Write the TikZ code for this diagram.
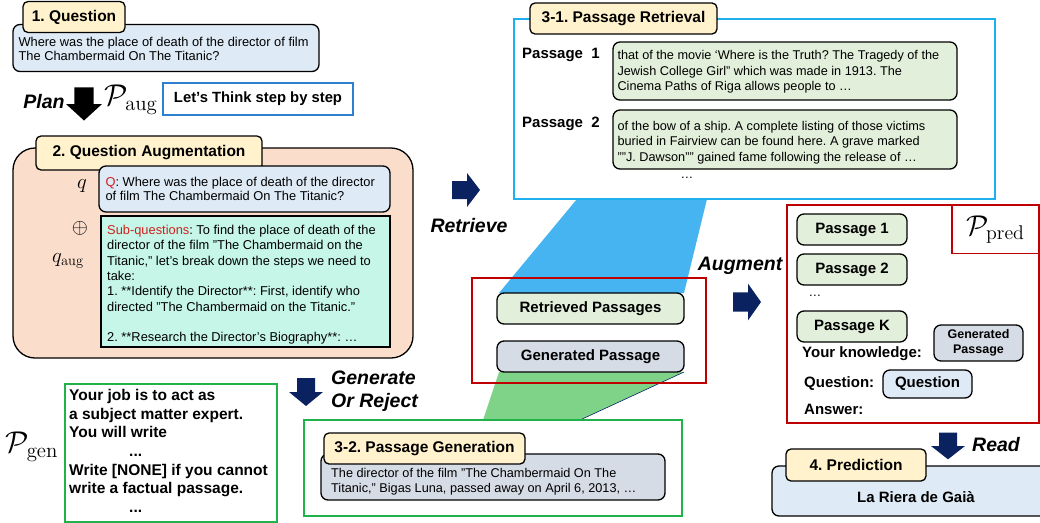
\documentclass[tikz,border=0pt]{standalone}
\usepackage[no-math]{fontspec}
\setmainfont{Liberation Sans}
\usepackage{amsmath}
\usepackage{amssymb}
\usepackage{graphicx}
\usepackage{xcolor}
\usepackage{tikz}
\usetikzlibrary{positioning,calc}

\definecolor{tabyel}{HTML}{FFF2CC}
\definecolor{qblue}{HTML}{DEEAF6}
\definecolor{peach}{HTML}{FADDCB}
\definecolor{mint}{HTML}{C5F6E7}
\definecolor{psgreen}{HTML}{E2EFDA}
\definecolor{gengray}{HTML}{D6DCE5}
\definecolor{retcyan}{HTML}{1DB0EC}
\definecolor{planblue}{HTML}{2D7FD0}
\definecolor{predred}{HTML}{C00000}
\definecolor{gengreen}{HTML}{22B24C}
\definecolor{navy}{HTML}{0A2260}
\definecolor{trapblue}{HTML}{45B4F0}
\definecolor{trapgreen}{HTML}{7FD388}
\definecolor{subred}{HTML}{D0201E}

\newcommand\qfont{\fontsize{12.85}{14.5}\selectfont}
\newcommand\augfont{\fontsize{12.85}{15.3}\selectfont}
\newcommand\psgfont{\fontsize{12.7}{15.5}\selectfont}
\newcommand\labfont{\bfseries\fontsize{15}{17}\selectfont}
\newcommand\verbfont{\bfseries\itshape\fontsize{19.5}{23}\selectfont}
\newcommand\mathbig{\fontsize{22}{24}\selectfont}
\newcommand\promptsym[2][1.45]{\scalebox{#1}{$\mathcal{P}_{\mathrm{#2}}$}}
\frenchspacing

\begin{document}
\begin{tikzpicture}[x=1pt,y=-1pt,
tab/.style={draw,line width=1.3pt,rounded corners=5pt,fill=tabyel,inner sep=0pt,
font=\bfseries\fontsize{15.5}{18}\selectfont},
card/.style={draw,line width=1.3pt,rounded corners=7pt,inner sep=0pt},
frame/.style={line width=1.6pt,inner sep=0pt},
darr/.pic={\fill (-9,-14) -- (9,-14) -- (9,0) -- (17,0) -- (0,14) -- (-17,0) -- (-9,0) -- cycle;},
rarr/.pic={\fill (-14,-9) -- (1,-9) -- (1,-17) -- (14,0) -- (1,17) -- (1,9) -- (-14,9) -- cycle;}]
\tikzstyle{every node}=[inner sep=0pt]
\useasboundingbox (0,0) rectangle (1040,522);

% 1. question
\node (qbox) [card,fill=qblue,minimum width=306pt,minimum height=47pt] at (166,48) {};
\node (qtxt) [right=6pt of qbox.west,yshift=-1pt,align=left,font=\qfont] {Where was the place of death of the director of film\\The Chambermaid On The Titanic?};
\node (qtab) [tab,minimum width=102pt,minimum height=31pt] at (74,17) {1. Question};

% plan
\node (plan) [font=\verbfont] at (44,102) {Plan};
\pic (planArr) [fill=black,yscale=1.18,xscale=1.06] at (84,104) {darr};
\node (paug) [font=\mathbig] at (131,100) {\promptsym{aug}};
\node (cot) [draw=planblue,line width=1.5pt,minimum width=190pt,minimum height=32pt,
font=\bfseries\fontsize{14.8}{16}\selectfont] at (258,99) {Let’s Think step by step};

% 2. question augmentation
\node (augbg) [draw,line width=1.3pt,fill=peach,rounded corners=22pt,minimum width=400pt,
minimum height=210pt] at (213,253) {};
\node (augtab) [tab,minimum width=226pt,minimum height=34pt] at (149,153) {2. Question Augmentation};
\node (qorig) [card,fill=qblue,minimum width=291pt,minimum height=46pt] at (244.5,189) {};
\node (qorigtxt) [right=7pt of qorig.west,align=left,font=\qfont] {\textcolor{subred}{Q}: Where was the place of death of the director\\of film The Chambermaid On The Titanic?};
\node (qaug) [draw,line width=1.3pt,fill=mint,minimum width=289pt,minimum height=131pt] at (245.5,281.5) {};
\node (qaugtxt) [anchor=north west,align=left,font=\augfont] at (107,225) {\textcolor{subred}{Sub-questions}: To find the place of death of the\\
director of the film "The Chambermaid on the\\
Titanic," let's break down the steps we need to\\
take:\\
1. **Identify the Director**: First, identify who\\
directed "The Chambermaid on the Titanic."\\[15.3pt]
2. **Research the Director's Biography**: …};
\node (qlab) [font=\mathbig] at (82,186) {$q$};
\node (oplus) [font=\mathbig] at (80,228) {$\oplus$};
\node (qauglab) [font=\mathbig] at (68,261) {$q_{\mathrm{aug}}$};

% retrieve
\pic (retArr) [fill=navy] at (466,190) {rarr};
\node (retverb) [font=\verbfont] at (469,226) {Retrieve};

% trapezoids behind the boxes
\coordinate (rl) at (499,293);
\coordinate (rr) at (684,293);
\coordinate (gl) at (499,372);
\coordinate (gr) at (684,372);
\fill[trapblue] (577,199) -- (707,199) -- (rr) -- (rl) -- cycle;
\fill[trapgreen] (gl) -- (gr) -- (580,420) -- (483,420) -- cycle;
\draw[navy,line width=0.6pt] (gr) -- (580,420);

% 3-1. passage retrieval
\node (retr) [draw=retcyan,frame,minimum width=481pt,minimum height=180pt] at (754.5,109) {};
\node (rettab) [tab,minimum width=187pt,minimum height=31pt] at (623.5,18.5) {3-1. Passage Retrieval};
\node (p1lab) [font=\labfont,anchor=west] at (522,55) {Passage\ \ 1};
\node (p1) [card,fill=psgreen,minimum width=344pt,minimum height=58pt] at (785,71) {};
\node (p1txt) [right=5pt of p1.west,yshift=-1pt,align=left,font=\psgfont] {that of the movie ‘Where is the Truth? The Tragedy of the\\Jewish College Girl” which was made in 1913. The\\Cinema Paths of Riga allows people to …};
\node (p2lab) [font=\labfont,anchor=west] at (522,124) {Passage\ \ 2};
\node (p2) [card,fill=psgreen,minimum width=344pt,minimum height=59pt] at (785,139.5) {};
\node (p2txt) [right=5pt of p2.west,yshift=-3pt,align=left,font=\psgfont] {of the bow of a ship. A complete listing of those victims\\buried in Fairview can be found here. A grave marked\\""J. Dawson"" gained fame following the release of …};
\node (pdots) [font=\psgfont] at (687,178) {…};

% mixed passages
\node (mix) [draw=predred,line width=1.5pt,minimum width=234pt,minimum height=105pt] at (589,330.5) {};
\node (retp) [card,fill=psgreen,minimum width=187pt,minimum height=31pt,font=\labfont] at (590.5,308.5) {Retrieved Passages};
\node (genp) [card,fill=gengray,minimum width=187pt,minimum height=31pt,font=\labfont] at (590.5,356.5) {Generated Passage};

% generate or reject
\node (pgen) [font=\mathbig] at (32,447) {\promptsym{gen}};
\node (pgenbox) [draw=gengreen,frame,minimum width=212pt,minimum height=138pt] at (171,453) {};
\node (pgentxt) [anchor=north west,align=left,font=\bfseries\fontsize{15.5}{18.7}\selectfont] at (69,389) {Your job is to act as\\a subject matter expert.\\You will write\\\hspace*{60pt}...\\Write [NONE] if you cannot\\write a factual passage.\\\hspace*{60pt}...};
\pic (genArr) [fill=navy] at (306,392) {darr};
\node (genverb) [font=\verbfont,align=left,anchor=west] at (331,391) {Generate\\Or Reject};

% 3-2. passage generation
\node (genbox) [draw=gengreen,frame,minimum width=378pt,minimum height=96pt] at (493,468) {};
\node (gentext) [card,fill=gengray,minimum width=344pt,minimum height=46pt] at (493,477) {};
\node (gentxt) [anchor=north west,align=left,font=\psgfont] at (331,468) {The director of the film "The Chambermaid On The\\Titanic," Bigas Luna, passed away on April 6, 2013, …};
\node (gentab) [tab,minimum width=201pt,minimum height=31pt] at (424.5,448.5) {3-2. Passage Generation};

% augment
\node (augverb) [font=\verbfont] at (740,266) {Augment};
\pic (augArr) [fill=navy,yscale=1.08] at (747,302) {rarr};

% prompt for prediction
\node (pred) [draw=predred,line width=1.5pt,minimum width=252pt,minimum height=218pt] at (913,314) {};
\node (ppred) [draw=predred,line width=1.5pt,minimum width=87pt,minimum height=48pt,font=\mathbig] at (995.5,229.5) {\promptsym[1.38]{pred}};
\node (k1) [card,fill=psgreen,minimum width=110pt,minimum height=31pt,font=\labfont] at (852,229.5) {Passage 1};
\node (k2) [card,fill=psgreen,minimum width=110pt,minimum height=31pt,font=\labfont] at (852,269.5) {Passage 2};
\node (kdots) [font=\psgfont] at (815,296) {…};
\node (kk) [card,fill=psgreen,minimum width=110pt,minimum height=31pt,font=\labfont] at (852,326.5) {Passage K};
\node (know) [font=\labfont,anchor=west] at (802,354) {Your knowledge:};
\node (kgen) [card,fill=gengray,minimum width=89pt,minimum height=36pt,align=center,
font=\bfseries\fontsize{12.5}{15}\selectfont] at (978.5,343) {Generated\\Passage};
\node (ques) [font=\labfont,anchor=west] at (804,384) {Question:};
\node (kq) [card,fill=qblue,minimum width=89pt,minimum height=28pt,font=\labfont] at (927.5,384) {Question};
\node (ans) [font=\labfont,anchor=west] at (804,409) {Answer:};

% read
\pic (readArr) [fill=navy,yscale=0.95] at (948,446) {darr};
\node (readverb) [font=\verbfont] at (996,445) {Read};

% 4. prediction
\node (predbox) [card,fill=qblue,minimum width=288pt,minimum height=50pt] at (916,491) {};
\node (predans) [font=\labfont] at (916,497) {La Riera de Gaià};
\node (predtab) [tab,minimum width=140pt,minimum height=32pt] at (856,465) {4. Prediction};

\end{tikzpicture}
\end{document}
